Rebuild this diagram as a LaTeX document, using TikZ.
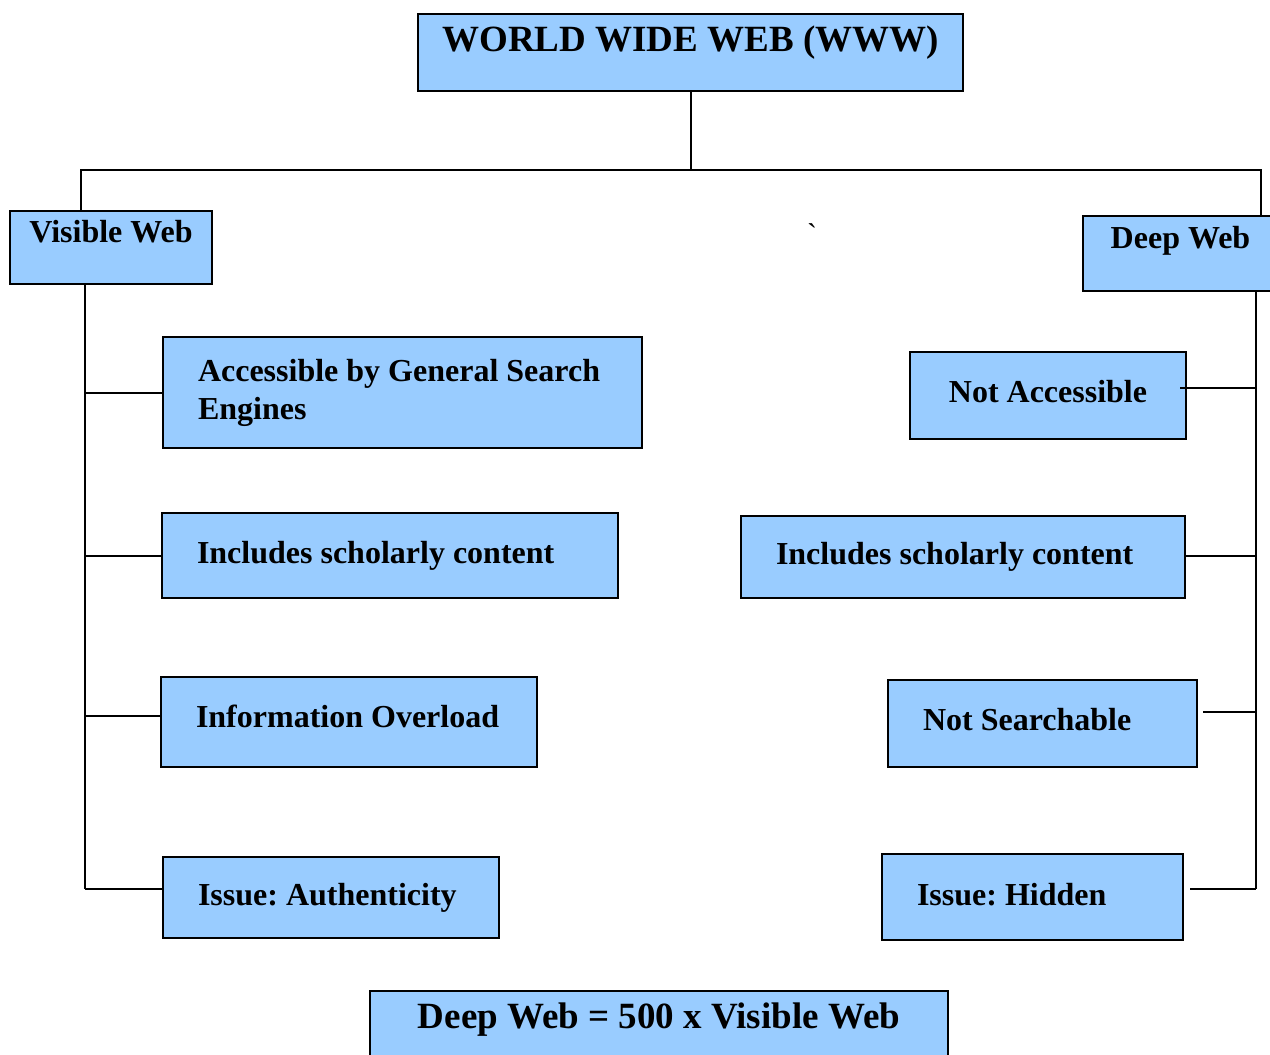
\documentclass[tikz,border=0pt]{standalone}
\usepackage{fontspec}
\setmainfont{Liberation Serif}
\usepackage{tikz}
\usetikzlibrary{calc}
\definecolor{webblue}{HTML}{99CCFF}

\begin{document}
\begin{tikzpicture}[x=1pt, y=-1pt,
    webbox/.style={draw=black, line width=1.2pt, fill=webblue, anchor=north west, outer sep=0pt, inner ysep=0pt, font=\fontsize{32}{38}\selectfont\bfseries\frenchspacing},
    leftbox/.style={webbox, inner xsep=35pt, align=flush left},
    link/.style={line width=2pt}]
    \useasboundingbox (0,0) rectangle (1270,1055);
    % top and the two halves
    \node [webbox, minimum width=545pt, text height=37pt, text depth=40pt, font=\fontsize{37}{44}\selectfont\bfseries] (www) at (418,14) {WORLD WIDE WEB (WWW)};
    \node [webbox, minimum width=202pt, text height=31pt, text depth=42pt] (vis) at (10,211) {Visible Web};
    \node [webbox, minimum width=195pt, text height=32pt, text depth=43pt] (deep) at (1083,216) {Deep Web};
    \node [font=\fontsize{30}{30}\selectfont] (tick) at (812,234) {\textasciigrave};
    % visible web
    \node [leftbox, text width=409pt, minimum height=111pt] (acc) at (163,337) {Accessible by General Search\\Engines};
    \node [leftbox, text width=386pt, minimum height=85pt] (inc1) at (162,513) {Includes scholarly content};
    \node [leftbox, text width=306pt, minimum height=90pt, text depth=12pt] (info) at (161,677) {Information Overload};
    \node [leftbox, text width=266pt, minimum height=81pt] (auth) at (163,857) {Issue: Authenticity};
    % deep web
    \node [webbox, minimum width=276pt, minimum height=87pt, text depth=8pt] (notacc) at (910,352) {Not Accessible};
    \node [leftbox, text width=374pt, minimum height=82pt] (inc2) at (741,516) {Includes scholarly content};
    \node [leftbox, text width=239pt, minimum height=87pt, text depth=8pt] (notsearch) at (888,680) {Not Searchable};
    \node [leftbox, text width=231pt, minimum height=86pt, text depth=6pt] (hidden) at (882,854) {Issue: Hidden};
    \node [webbox, minimum width=578pt, text height=37pt, text depth=40pt, font=\fontsize{37}{44}\selectfont\bfseries] (eq) at (370,991) {Deep Web = 500 x Visible Web};
    % connectors
    \coordinate (busl) at (81,170);
    \coordinate (busr) at (1261,170);
    \coordinate (vbot) at (85,889);
    \coordinate (dbot) at (1256,889);
    \draw [link] (www.south) -- (www.south |- busl);
    \draw [link] (vis.north -| busl) -- (busl) -- (busr) -- (deep.north -| busr);
    \draw [link] (vis.south -| vbot) -- (vbot);
    \draw [link] (deep.south -| dbot) -- (dbot);
    \foreach \n/\dy in {acc/0, inc1/0, info/6, auth/8.5}
        \draw [link] ([yshift=\dy pt]\n.west) -| (vbot);
    \foreach \n/\dx/\dy in {notacc/-6/7.5, inc2/0/1, notsearch/6/11.5, hidden/7/8}
        \draw [link] ([xshift=\dx pt, yshift=\dy pt]\n.east) -| (dbot);
\end{tikzpicture}
\end{document}
